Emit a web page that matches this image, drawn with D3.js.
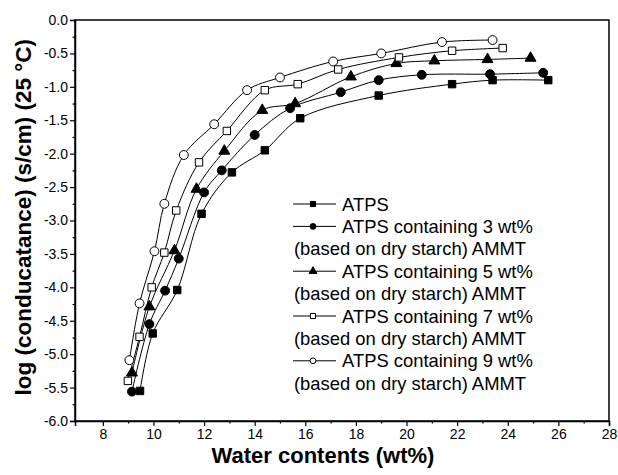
<!DOCTYPE html>
<html>
<head>
<meta charset="utf-8">
<script src="https://cdn.jsdelivr.net/npm/d3@7"></script>
<style>
  body { margin: 0; background: #fff; }
  svg { font-family: Arial, "Liberation Sans", sans-serif; }
</style>
</head>
<body>
<div id="chart"></div>
<script>
// data
const atps_x = [9.47, 9.97, 10.94, 11.9, 13.1, 14.4, 15.8, 18.9, 21.8, 23.4, 25.6];
const atps_y = [-5.55, -4.69, -4.04, -2.9, -2.28, -1.95, -1.47, -1.13, -0.96, -0.9, -0.9];

const a3_x = [9.15, 9.84, 10.46, 11.0, 12.0, 12.7, 14.0, 15.4, 17.4, 18.9, 20.6, 23.3, 25.4];
const a3_y = [-5.56, -4.55, -4.05, -3.57, -2.58, -2.25, -1.72, -1.32, -1.08, -0.9, -0.82, -0.81, -0.79];

const a5_x = [9.15, 9.84, 10.83, 11.7, 12.8, 14.3, 15.6, 17.8, 19.6, 21.1, 23.2, 24.9];
const a5_y = [-5.28, -4.29, -3.45, -2.53, -1.96, -1.35, -1.25, -0.85, -0.65, -0.61, -0.59, -0.57];

const a7_x = [8.99, 9.45, 9.93, 10.43, 10.9, 11.8, 12.9, 14.4, 15.7, 17.3, 19.7, 21.8, 23.8];
const a7_y = [-5.4, -4.74, -4.0, -3.48, -2.85, -2.13, -1.66, -1.05, -0.96, -0.74, -0.56, -0.46, -0.42];

const a9_x = [9.05, 9.45, 10.04, 10.43, 11.2, 12.4, 13.7, 15.0, 17.1, 19.0, 21.4, 23.4];
const a9_y = [-5.09, -4.24, -3.46, -2.75, -2.02, -1.56, -1.05, -0.86, -0.62, -0.5, -0.33, -0.3];

const legendLines = [
    "ATPS",
    "ATPS containing 3 wt%", "(based on dry starch) AMMT",
    "ATPS containing 5 wt%", "(based on dry starch) AMMT",
    "ATPS containing 7 wt%", "(based on dry starch) AMMT",
    "ATPS containing 9 wt%", "(based on dry starch) AMMT"
];

const xTicks = [8, 10, 12, 14, 16, 18, 20, 22, 24, 26, 28];
const yTicks = [0, -0.5, -1, -1.5, -2, -2.5, -3, -3.5, -4, -4.5, -5, -5.5, -6];

const series = [
    {xs: atps_x, ys: atps_y, sym: "square", fill: true},
    {xs: a3_x, ys: a3_y, sym: "circle", fill: true},
    {xs: a5_x, ys: a5_y, sym: "triangle", fill: true},
    {xs: a7_x, ys: a7_y, sym: "square", fill: false},
    {xs: a9_x, ys: a9_y, sym: "circle", fill: false}
];

const W = 618, H = 475;
const mLeft = 75, mRight = 609, mTop = 20, mBottom = 421;

const svg = d3.select("#chart").append("svg")
    .attr("width", W)
    .attr("height", H);

const x = d3.scaleLinear().domain([6.9, 28]).range([mLeft, mRight]);
const y = d3.scaleLinear().domain([-6, 0]).range([mBottom, mTop]);

// frame
svg.append("rect")
    .attr("x", mLeft).attr("y", mTop)
    .attr("width", mRight - mLeft).attr("height", mBottom - mTop)
    .attr("fill", "none").attr("stroke", "#000").attr("stroke-width", 1.5);

// x axis
svg.append("g").attr("transform", `translate(0,${mBottom})`)
    .call(d3.axisBottom(x).tickValues(xTicks).tickFormat(d3.format("d")).tickSize(5).tickPadding(3));
svg.append("g").attr("transform", `translate(0,${mBottom})`)
    .call(d3.axisBottom(x).tickValues(d3.range(9, 28, 2)).tickFormat("").tickSize(2.5))
    .select(".domain").remove();

// y axis
svg.append("g").attr("transform", `translate(${mLeft},0)`)
    .call(d3.axisLeft(y).tickValues(yTicks).tickFormat(d => d.toFixed(1)).tickSize(5).tickPadding(2));
svg.append("g").attr("transform", `translate(${mLeft},0)`)
    .call(d3.axisLeft(y).tickValues(d3.range(-5.75, 0, 0.5)).tickFormat("").tickSize(2.5))
    .select(".domain").remove();

svg.selectAll(".domain").attr("stroke-width", 1.5);
svg.selectAll(".tick line").attr("stroke-width", 1.2);
svg.selectAll(".tick text").attr("font-size", 14).attr("font-family", "Arial, 'Liberation Sans', sans-serif").attr("fill", "#000");

// axis titles
svg.append("text")
    .attr("x", x(16.7)).attr("y", 463)
    .attr("text-anchor", "middle")
    .attr("font-size", 22).attr("font-weight", "bold")
    .text("Water contents (wt%)");

svg.append("text")
    .attr("transform", `translate(31,${y(-2.95)}) rotate(-90)`)
    .attr("text-anchor", "middle")
    .attr("font-size", 22.5).attr("font-weight", "bold")
    .text("log (conducatance) (s/cm) (25 \u00B0C)");

const line = d3.line()
    .x(d => x(d[0])).y(d => y(d[1]))
    .curve(d3.curveCatmullRom.alpha(0.5));

const symbolFor = (s, size) => {
    if (s == "square") return d3.symbol(d3.symbolSquare, size)();
    if (s == "circle") return d3.symbol(d3.symbolCircle, size)();
    return d3.symbol(d3.symbolTriangle, size)();
}

const markSize = {square: 55, circle: 62, triangle: 52};

series.forEach(s => {
    const pts = s.xs.map((v, i) => [v, s.ys[i]]);
    svg.append("path")
        .datum(pts)
        .attr("d", line)
        .attr("fill", "none")
        .attr("stroke", "#000")
        .attr("stroke-width", 1);

    svg.append("g")
        .selectAll("path")
        .data(pts)
        .join("path")
        .attr("transform", d => `translate(${x(d[0])},${y(d[1])})`)
        .attr("d", symbolFor(s.sym, markSize[s.sym]))
        .attr("fill", s.fill ? "#000" : "#fff")
        .attr("stroke", "#000")
        .attr("stroke-width", 1);
});

// legend
const lg = svg.append("g").attr("font-size", 18.4);
const rowH = 22.4;
const lx = 293, ly = 204;
legendLines.forEach((t, i) => {
    const yy = ly + i * rowH;
    if (i == 0 || i % 2 == 1) {
        const s = series[i == 0 ? 0 : (i + 1) / 2];
        lg.append("line")
            .attr("x1", lx).attr("x2", lx + 43)
            .attr("y1", yy).attr("y2", yy)
            .attr("stroke", "#000").attr("stroke-width", 1);
        lg.append("path")
            .attr("transform", `translate(${lx + 20},${yy})`)
            .attr("d", symbolFor(s.sym, 26))
            .attr("fill", s.fill ? "#000" : "#fff")
            .attr("stroke", "#000").attr("stroke-width", 1);
        lg.append("text").attr("x", lx + 49).attr("y", yy + 6.5).text(t);
    } else {
        lg.append("text").attr("x", lx + 1).attr("y", yy + 6.5).text(t);
    }
});
</script>
</body>
</html>
